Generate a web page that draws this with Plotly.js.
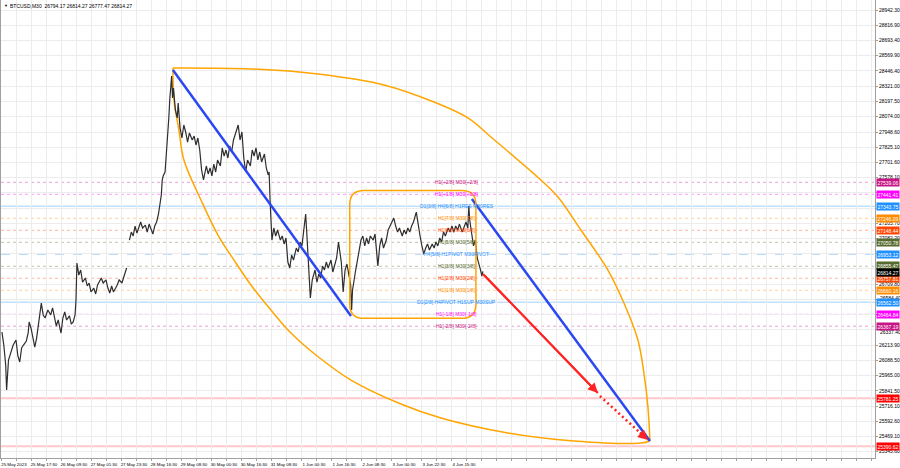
<!DOCTYPE html>
<html><head><meta charset="utf-8">
<script src="https://cdn.plot.ly/plotly-3.0.1.min.js"></script>
<style>html,body{margin:0;padding:0;background:#fff;}#chart{width:900px;height:468px;}</style>
</head><body><div id="chart"></div>
<script>
// ---- data ----
const symbolTitle = "BTCUSD,M30";
const ohlc = [26794.17, 26814.27, 26777.47, 26814.27];

// bar index (M30 bars from 25 May 2023 00:00) and price
const barIdx = [0,2,4,5,7,10,12,15,17,19,21,23,26,28,29,31,33,35,37,39,42,44,46,49,52,54,58,60,63,65,67,69,72,74,76,78,79,80,82,84,86,89,91,93,95,98,100,102,106,108,111,113,115,117,119,123,125,128,130,133,134,
136,138,140,142,144,146,148,150,153,155,157,159,161,163,165,167,170,171,172,174,175,177,178,179,180,181,182,183,185,187,188,190,192,194,196,198,200,203,205,207,
209,211,213,215,218,220,222,224,226,228,230,233,235,237,239,241,243,245,247,250,252,254,256,258,260,262,265,267,269,271,273,275,277,280,282,284,285,286,287,288,290,292,294,297,299,301,303,305,307,309,
311,314,316,318,320,322,324,325,327,329,331,334,336,338,340,342,344,346,348,351,353,355,357,359,362,364,366,368,370,372,373,374,377,379,381,383,385,387,389,391,393,396,398,400,401,403,405,407,410,412,
414,416,418,420,422,424,427,429,431,433,435,437,439,442,444,446,448,450,452,454,456,459,461,463,465,467,469,471,473,476,478,480,482,484,486,488,491,493,495,497,498,499,501,503,505,506,507,510,512,513];
const price = [26320,26214,26051,25848,26092,26157,26214,26255,26125,26076,26190,26214,26247,26312,26402,26353,26288,26198,26271,26402,26556,26459,26434,26499,26459,26516,26369,26418,26312,26434,26483,26418,26451,26385,26402,26459,26581,26882,26784,26825,26727,26760,26695,26719,26646,26678,26630,26703,26760,26719,26744,26678,26638,26695,26646,26703,26744,26719,26776,26841,null,
27069,27134,27102,27183,27126,27167,27216,27167,27191,27134,27199,27159,27118,27183,27216,27281,27436,27558,27590,27623,27721,27924,28063,28209,28291,28405,28226,28307,28128,28063,28185,27981,27900,28006,27949,27867,27941,27884,27916,27843,
27900,27802,27639,27558,27672,27607,27656,27591,27688,27623,27721,27672,27819,27753,27802,27737,27835,27786,27884,27949,28006,27884,27949,27737,27623,27721,27672,27802,27753,27819,27721,27786,27705,27770,27656,27599,27623,27395,27191,27069,27167,27102,27151,27069,27102,27037,27086,26890,26841,26947,
26906,27004,26972,27053,27021,27167,27281,27151,26890,26597,26744,26825,26727,26792,26760,26857,26825,26890,26841,26906,26809,26857,26923,27053,26890,26646,26825,26874,26776,26703,26499,26662,26809,26890,26972,27069,27102,27021,27086,27037,27102,27069,27118,26923,26858,27021,27086,27004,27069,27151,
27183,27216,27248,27183,27134,27167,27102,27151,27118,27167,27134,27183,27216,27297,27183,27102,27021,26955,27004,27037,26988,27037,27004,27053,27021,27086,27053,27134,27102,27167,27134,27183,27134,27183,27151,27199,27134,27183,27216,27167,27346,27232,27118,27021,27069,27004,26923,26841,26776,26814.27];

// x-axis labels (every 32 bars), grid every 16 bars
const timeLabelBars = [0,32,64,96,128,160,192,224,256,288,320,352,384,416,448,480];
const timeLabels = ["25 May 2023","25 May 17:30","26 May 09:30","27 May 01:30","27 May 23:30","28 May 16:30","29 May 08:30","30 May 00:30","30 May 16:30","31 May 08:30","1 Jun 00:30","1 Jun 16:30","2 Jun 08:30","3 Jun 00:30","3 Jun 22:30","4 Jun 15:30"];

// price axis labels
const priceTicks = [28942.30,28816.90,28693.40,28569.90,28446.40,28321.00,28197.50,28074.00,27948.60,27825.10,27701.60,27578.10,27452.70,27329.20,27205.70,27082.20,26958.70,26833.30,26709.80,26584.40,26460.90,26337.40,26213.90,26088.50,25965.00,25841.50,25716.10,25592.60,25469.10,25345.60];
// covered by level boxes in the reference
const hiddenTicks = [27452.70,27329.20,26958.70,26833.30,26460.90];
// printed just beside a level box
const nudgedTicks = [26584.40, 26337.40];
const nudgePx = [2, -2];

// Murrey math levels
const mmLevels = [27539.06,27441.41,27343.75,27246.09,27148.44,27050.78,26953.12,26855.47,26757.81,26660.16,26562.50,26464.84,26367.19];
const mmLabels = ["H1[+2/8] M30[+2/8]","H1[+1/8] M30[+1/8]","D1[3/8] H4[6/8] H1RES M30RES","H1[7/8] M30[7/8]","H1[6/8] M30[6/8]","H1[5/8] M30[5/8]","H4[5/8] H1PIVOT M30PIVOT","H1[3/8] M30[3/8]","H1[2/8] M30[2/8]","H1[1/8] M30[1/8]","D1[2/8] H4PIVOT H1SUP M30SUP","H1[-1/8] M30[-1/8]","H1[-2/8] M30[-2/8]"];
const targetLevels = [25781.25, 25390.62];
const levelLabelBar = 485;

// drawings
const topArcBars = [182.4,265.6,337.1,407.5,460.8,497.1,521.6,574.9,593.1,617.6,646.4,663.5,678.4,684.8,689.1,691.2];
const topArcPrices = [28470,28462,28421,28332,28193,28063,27908,27558,27420,27151,26825,26556,26255,25986,25709,25433];
const botArcBars = [182.4,183.5,188.8,194.1,212.3,230.4,249.6,265.6,286.9,308.3,334.9,372.3,425.6,468.3,539.7,610.1,681.6,691.2];
const botArcPrices = [28470,28209,27965,27721,27395,27110,26882,26703,26499,26312,26133,25929,25734,25620,25498,25433,25416,25433];
const blueLine1Bars = [182.4, 372.3], blueLine1Prices = [28454, 26451];
const blueLine2Bars = [501.3, 691.2], blueLine2Prices = [27403, 25433];
const redArrowBars = [513.1, 635.7], redArrowPrices = [26793, 25823];
const redDotBars = [637.9, 689.1], redDotPrices = [25799, 25441];
const boxBars = [371, 505.6], boxPrices = [26431.8, 27472.5];

// ---- styles ----
const mmColors = ['#c71585','#ff00ff','#1e90ff','#ff8c00','#ff4500','#556b2f','#1e90ff','#556b2f','#ff4500','#ff8c00','#1e90ff','#ff00ff','#c71585'];
const mmDash = ['dot','dot','solid','dot','dot','dot','dash','dot','dot','dot','solid','dot','dot'];
const FONT = 'Liberation Sans, Arial, sans-serif';
function rgba(hex, a){const n=parseInt(hex.slice(1),16);return `rgba(${n>>16&255},${n>>8&255},${n&255},${a})`;}

const traces = [
  {x:topArcBars, y:topArcPrices, mode:'lines', line:{color:'#ffa500', width:1.5, shape:'spline', smoothing:1}, hoverinfo:'skip'},
  {x:botArcBars, y:botArcPrices, mode:'lines', line:{color:'#ffa500', width:1.5, shape:'spline', smoothing:1}, hoverinfo:'skip'},
  {x:barIdx, y:price, mode:'lines', connectgaps:false, line:{color:'#2e2e2e', width:1.2}, hoverinfo:'skip'},
  {x:blueLine1Bars, y:blueLine1Prices, mode:'lines', line:{color:'#2a48f2', width:2.5}, hoverinfo:'skip'},
  {x:blueLine2Bars, y:blueLine2Prices, mode:'lines', line:{color:'#2a48f2', width:2.5}, hoverinfo:'skip'},
  {x:redArrowBars, y:redArrowPrices, mode:'lines', line:{color:'#ff2424', width:2}, hoverinfo:'skip'},
  {x:redDotBars, y:redDotPrices, mode:'lines', line:{color:'#ff2424', width:2.5, dash:'2px,3px'}, hoverinfo:'skip'}
];

const shapes = [];
mmLevels.forEach((v,i)=>{
  const solid = mmDash[i]==='solid';
  shapes.push({type:'line', xref:'paper', x0:0, x1:1, yref:'y', y0:v, y1:v, layer:'below',
    line:{color:rgba(mmColors[i], solid?0.28:0.4), width: solid?1.5:1, dash:mmDash[i]}});
});
targetLevels.forEach(v=>{
  shapes.push({type:'line', xref:'paper', x0:0, x1:1, yref:'y', y0:v, y1:v, layer:'below',
    line:{color:'rgba(255,0,0,0.22)', width:2}});
});
// rounded rectangle
(function(){
  const x0=boxBars[0], x1=boxBars[1], y0=boxPrices[0], y1=boxPrices[1];
  const rx=15, ry=115;
  const p = `M ${x0+rx},${y1} L ${x1-rx},${y1} Q ${x1},${y1} ${x1},${y1-ry} L ${x1},${y0+ry} Q ${x1},${y0} ${x1-rx},${y0} L ${x0+rx},${y0} Q ${x0},${y0} ${x0},${y0+ry} L ${x0},${y1-ry} Q ${x0},${y1} ${x0+rx},${y1} Z`;
  shapes.push({type:'path', xref:'x', yref:'y', path:p, line:{color:'#ffa500', width:1.5}, layer:'above'});
})();

const annotations = [];
nudgedTicks.forEach((v,i)=>{
  annotations.push({x:1, y:v, xref:'paper', yref:'y', text:v.toFixed(2), showarrow:false, xanchor:'left', yanchor:'middle', xshift:3, yshift:nudgePx[i],
    font:{family:FONT, size:5, color:'#000'}});
});
mmLevels.forEach((v,i)=>{
  annotations.push({x:levelLabelBar, y:v, xref:'x', yref:'y', text:mmLabels[i], showarrow:false, xanchor:'center', yanchor:'middle',
    font:{family:FONT, size:5, color:mmColors[i]}});
  annotations.push({x:1, y:v, xref:'paper', yref:'y', text:v.toFixed(2), showarrow:false, xanchor:'left', yanchor:'middle', xshift:1,
    yshift: (i===7 ? 1 : 0),
    bgcolor:mmColors[i], borderpad:0.5, font:{family:FONT, size:5, color:'#fff'}});
});
annotations.push({x:1, y:ohlc[3], xref:'paper', yref:'y', text:ohlc[3].toFixed(2), showarrow:false, xanchor:'left', yanchor:'middle', xshift:1, yshift:-1,
  bgcolor:'#000', borderpad:0.5, font:{family:FONT, size:5, color:'#fff'}});
targetLevels.forEach(v=>{
  annotations.push({x:1, y:v, xref:'paper', yref:'y', text:v.toFixed(2), showarrow:false, xanchor:'left', yanchor:'middle', xshift:1,
    bgcolor:'#ff0000', borderpad:0.5, font:{family:FONT, size:5, color:'#fff'}});
});
// arrowheads
annotations.push({x:redArrowBars[1], y:redArrowPrices[1], ax:redArrowBars[0], ay:redArrowPrices[0], xref:'x', yref:'y', axref:'x', ayref:'y',
  text:'', showarrow:true, arrowhead:2, arrowsize:1, arrowwidth:2, arrowcolor:'#ff2424'});
const headFrom = [redDotBars[0] + 0.8*(redDotBars[1]-redDotBars[0]), redDotPrices[0] + 0.8*(redDotPrices[1]-redDotPrices[0])];
annotations.push({x:redDotBars[1], y:redDotPrices[1], ax:headFrom[0], ay:headFrom[1], xref:'x', yref:'y', axref:'x', ayref:'y',
  text:'', showarrow:true, arrowhead:2, arrowsize:1, arrowwidth:2, arrowcolor:'#ff2424', standoff:0});
// header
annotations.push({x:0, y:1, xref:'paper', yref:'paper', xanchor:'left', yanchor:'top', xshift:1, yshift:-1, showarrow:false,
  text:'\u25BC', font:{family:FONT, size:4, color:'#000'}});
annotations.push({x:0, y:1, xref:'paper', yref:'paper', xanchor:'left', yanchor:'top', xshift:7, yshift:-1, showarrow:false,
  text:symbolTitle+'  '+ohlc.map(v=>v.toFixed(2)).join(' '), font:{family:FONT, size:5, color:'#000'}});

const gridBars = [];
for (let b=0; b<=928; b+=16) gridBars.push(b);
const gridText = gridBars.map(b=>{const k=timeLabelBars.indexOf(b);return k>=0?timeLabels[k]:'';});

const layout = {
  width:900, height:468,
  margin:{l:1, r:25, t:0, b:10, pad:0},
  paper_bgcolor:'#ffffff', plot_bgcolor:'#ffffff',
  showlegend:false,
  font:{family:FONT, size:5, color:'#000'},
  xaxis:{range:[-1, 931.3], tickmode:'array', tickvals:gridBars, ticktext:gridText, showgrid:true, gridcolor:'#ececec', gridwidth:1,
    zeroline:false, showline:true, linecolor:'#a0a0a0', linewidth:1, ticks:'outside', ticklen:2, tickcolor:'#a0a0a0',
    tickfont:{family:FONT, size:4.4, color:'#000'}, ticklabelshift:12, ticklabeloverflow:'allow', automargin:false, fixedrange:true, tickangle:0},
  yaxis:{side:'right', range:[25294.2, 29023.7], tickmode:'array', tickvals:priceTicks,
    ticktext:priceTicks.map(v=>(hiddenTicks.includes(v)||nudgedTicks.includes(v))?'':v.toFixed(2)),
    showgrid:true, gridcolor:'#ececec', gridwidth:1, zeroline:false, showline:true, mirror:true, linecolor:'#a0a0a0', linewidth:1,
    ticks:'outside', ticklen:2, tickcolor:'#a0a0a0', tickfont:{family:FONT, size:5, color:'#000'}, automargin:false, fixedrange:true},
  shapes:shapes,
  annotations:annotations
};

Plotly.newPlot('chart', traces, layout, {staticPlot:true, displayModeBar:false});
</script>
</body></html>
